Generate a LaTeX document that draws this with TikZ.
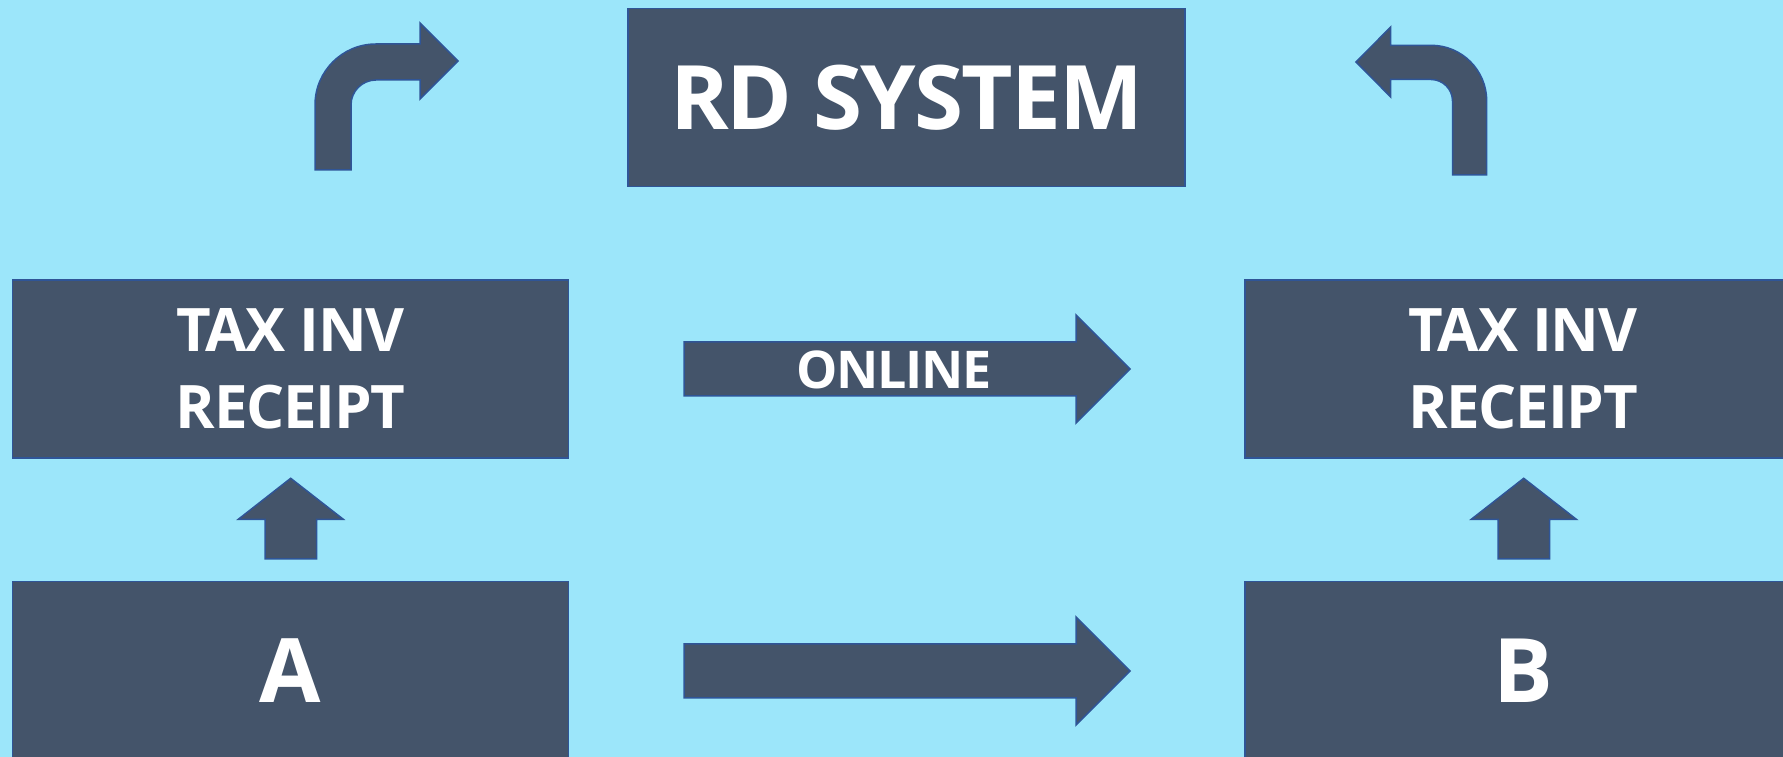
\documentclass[tikz,border=0pt]{standalone}
\usepackage{fontspec}
\setmainfont{Open Sans}[LetterSpace=-2.2]
\usepackage{xcolor}
\usepackage{tikz}
\definecolor{bg}{HTML}{9CE6FA}
\definecolor{slate}{HTML}{44546A}
\definecolor{rim}{HTML}{2F5597}
\definecolor{text}{HTML}{FFFFFF}
\tikzset{
  box/.style={draw=rim, fill=slate, line width=1.5pt, minimum width=556pt, minimum height=178pt, inner sep=0pt, text=text, align=center},
  blk/.style={draw=rim, fill=slate, line width=1.5pt, line join=miter},
  huge/.style={font=\fontsize{89}{100}\selectfont\bfseries},
  mid/.style={font=\fontsize{60}{77}\selectfont\bfseries},
  tag/.style={text=text, font=\fontsize{52}{60}\selectfont\bfseries},
}

\begin{document}
\begin{tikzpicture}[x=1pt, y=1pt]
  \useasboundingbox (0,0) rectangle (1783,757);
  \clip (0,0) rectangle (1783,757);
  \fill[bg] (0,0) rectangle (1783,757);
  % boxes
  \node[box, huge, minimum width=557pt] (rd) at (906.5,659.7) {RD SYSTEM};
  \node[box, mid] (taxA) at (290.4,387.8) {TAX INV\\RECEIPT};
  \node[box, mid] (taxB) at (1523,387.8) {TAX INV\\RECEIPT};
  \node[box, huge] (boxA) at (290.4,86.3) {A};
  \node[box, huge] (boxB) at (1523,86.3) {B};
  % straight arrows
  \draw[blk] (684,361) -- (1076,361) -- (1076,334) -- (1130,388) -- (1076,442) -- (1076,415) -- (684,415) -- cycle;
  \node[tag] (online) at (894,387.5) {ONLINE};
  \draw[blk] (684,59) -- (1076,59) -- (1076,32) -- (1130,86) -- (1076,140) -- (1076,113) -- (684,113) -- cycle;
  \foreach \xc in {290.7,1523.7}
    \draw[blk] ({\xc-25.7},198) -- ({\xc+26},198) -- ({\xc+26},237.7) -- ({\xc+52.6},237.7)
      -- (\xc,278.7) -- ({\xc-52.4},237.7) -- ({\xc-25.7},237.7) -- cycle;
  % bent arrows
  \draw[blk] (315,587) -- (315,652) arc (180:90:61) -- (420,713) -- (420,734) -- (458,696)
    -- (420,658) -- (420,677) -- (376,677) arc (90:180:25) -- (351,587) -- cycle;
  \draw[blk] (1486.7,582) -- (1486.7,656) arc (0:90:55.7) -- (1390.7,711.7) -- (1390.7,730) -- (1356,695)
    -- (1390.7,660) -- (1390.7,677.5) -- (1431,677.5) arc (90:0:21.5) -- (1452.5,582) -- cycle;
\end{tikzpicture}
\end{document}
